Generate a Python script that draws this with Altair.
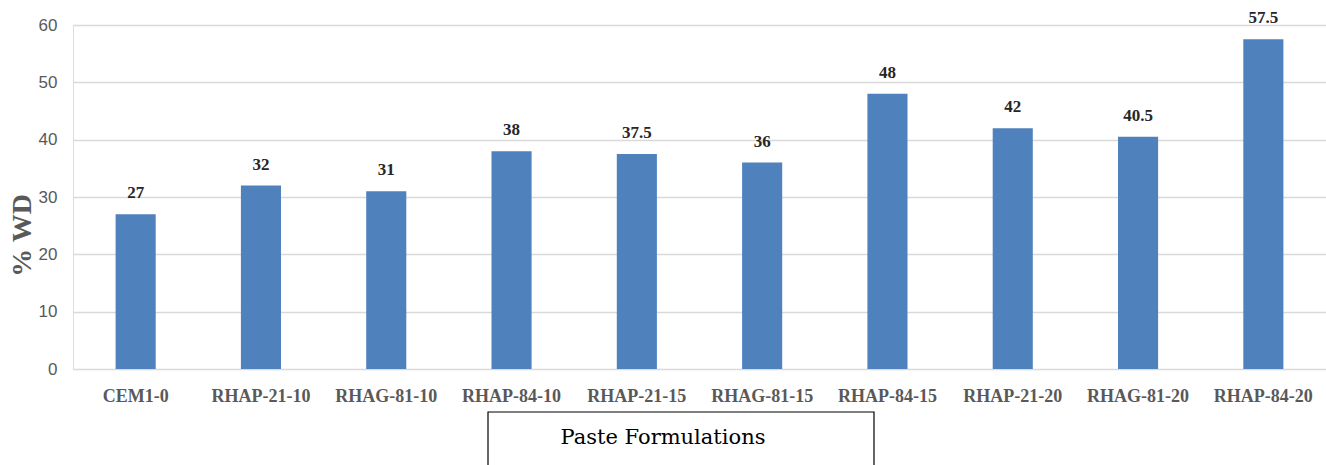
import altair as alt
import pandas as pd

# Water demand (% WD) for each paste formulation
formulations = [
    "CEM1-0", "RHAP-21-10", "RHAG-81-10", "RHAP-84-10", "RHAP-21-15",
    "RHAG-81-15", "RHAP-84-15", "RHAP-21-20", "RHAG-81-20", "RHAP-84-20",
]
wd_values = [27, 32, 31, 38, 37.5, 36, 48, 42, 40.5, 57.5]
value_labels = ["27", "32", "31", "38", "37.5", "36", "48", "42", "40.5", "57.5"]
y_ticks = [0, 10, 20, 30, 40, 50, 60]
x_title = "Paste Formulations"

df = pd.DataFrame({"formulation": formulations, "wd": wd_values, "label": value_labels})

SERIF = "Liberation Serif"
GRAY = "#595959"

x_enc = alt.X(
    "formulation:N",
    sort=formulations,
    scale=alt.Scale(paddingInner=0.68, paddingOuter=0.34),
    axis=alt.Axis(
        title=None,
        labelFont=SERIF,
        labelFontWeight="bold",
        labelFontSize=18,
        labelColor=GRAY,
        labelAngle=0,
        labelPadding=18,
        domain=False,
        ticks=False,
        grid=False,
    ),
)

y_enc = alt.Y(
    "wd:Q",
    scale=alt.Scale(domain=[0, 60], nice=False),
    axis=alt.Axis(
        values=y_ticks,
        title="% WD",
        titleFont=SERIF,
        titleFontWeight="bold",
        titleFontSize=28,
        titleColor=GRAY,
        titleX=-51,
        titleY=210,
        titleAngle=-90,
        titleAlign="center",
        titleBaseline="middle",
        labelFont="Liberation Sans Narrow, Liberation Sans",
        labelFontSize=17,
        labelColor=GRAY,
        labelPadding=16,
        domain=False,
        ticks=False,
        gridColor="#d9d9d9",
        gridWidth=1.3,
    ),
)

base = alt.Chart(df)

bars = base.mark_bar(color="#4f81bd").encode(x=x_enc, y=y_enc)

labels = base.mark_text(
    font=SERIF,
    fontWeight="bold",
    fontSize=17,
    color="#262626",
    baseline="bottom",
    dy=-12,
).encode(x=x_enc, y=y_enc, text="label:N")

# Boxed x-axis title below the category labels
note = alt.Chart(pd.DataFrame({"title": [x_title]}))

frame = note.mark_rect(
    fill=None, stroke="#000000", strokeWidth=1.2, clip=False
).encode(
    x=alt.value(415),
    x2=alt.value(801),
    y=alt.value(387),
    y2=alt.value(470),
)

frame_text = note.mark_text(
    font="DejaVu Serif",
    fontWeight=400,
    fontSize=21,
    color="#000000",
    align="center",
    baseline="middle",
).encode(x=alt.value(590), y=alt.value(413), text="title:N")

chart = (
    alt.layer(bars, labels, frame, frame_text)
    .properties(
        width=1253,
        height=344,
        padding={"left": 73, "top": 25, "right": 0, "bottom": 96},
        autosize=alt.AutoSizeParams(type="none"),
    )
    .configure_view(stroke=None)
    .configure(background="#ffffff")
)

chart.save("out.html", embed_options={"renderer": "svg", "actions": False})
